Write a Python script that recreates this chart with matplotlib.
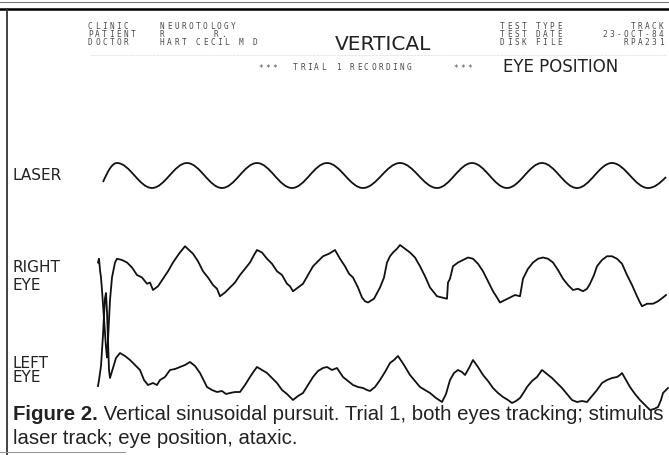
import matplotlib
matplotlib.use("Agg")
import matplotlib.pyplot as plt
from matplotlib.path import Path
from matplotlib.patches import PathPatch
from matplotlib.transforms import Affine2D

# 레이저 자극 (극값: 피크/골)
laser_x = [103, 117, 152, 187, 222, 257, 292, 327, 363, 400, 437, 472, 507, 542, 577, 612, 648, 666]
laser_y = [182, 163, 188, 163, 188, 163, 188, 163, 188, 163, 188, 163, 188, 163, 188, 163, 188, 177]

# 오른쪽 눈 (기록 단위)
right_x = [98, 99, 100, 101, 102, 104, 106, 107, 108, 110, 112, 115, 117, 122, 127, 132, 137, 142, 147, 150,
           153, 158, 163, 168, 173, 179, 185, 189, 193, 198, 203, 208, 213, 217, 220, 225, 230, 235, 240,
           245, 250, 254, 257, 262, 267, 272, 277, 282, 287, 290, 293, 298, 303, 308, 313, 318, 323, 329,
           335, 340, 345, 349, 353, 358, 362, 365, 368, 374, 380, 384, 387, 390, 393, 397, 400, 405, 410,
           415, 420, 425, 430, 434, 437, 442, 447, 448, 450, 453, 458, 463, 468, 473, 478, 483, 488, 493,
           497, 500, 505, 510, 515, 520, 523, 528, 533, 538, 543, 548, 553, 558, 563, 568, 573, 578, 583,
           587, 590, 594, 597, 602, 607, 612, 617, 622, 627, 632, 637, 640, 642, 647, 653, 658, 663, 666]
right_y = [250, 247, 256, 262, 272, 295, 318, 326, 312, 280, 262, 250, 247, 248, 250, 254, 260, 262, 267, 266,
           272, 269, 263, 257, 250, 243, 237, 240, 243, 249, 257, 262, 268, 271, 277, 274, 270, 266, 260,
           255, 250, 244, 240, 242, 247, 251, 257, 260, 267, 269, 273, 270, 267, 260, 253, 249, 245, 243,
           240, 247, 253, 259, 262, 270, 278, 281, 282, 279, 270, 262, 250, 245, 242, 239, 236, 239, 242,
           246, 253, 261, 270, 274, 277, 278, 279, 266, 263, 253, 250, 248, 246, 247, 251, 257, 265, 273,
           278, 282, 280, 278, 276, 277, 263, 255, 250, 247, 246, 247, 250, 256, 263, 268, 272, 271, 273,
           271, 267, 260, 253, 248, 245, 245, 247, 251, 260, 268, 277, 282, 285, 283, 283, 281, 278, 276]

# 왼쪽 눈 (기록 단위)
left_x = [98, 99, 101, 103, 104, 105, 106, 107, 108, 109, 110, 113, 116, 120, 125, 130, 135, 140, 144, 148,
          153, 157, 160, 165, 170, 175, 180, 185, 190, 195, 200, 204, 207, 212, 217, 222, 226, 230, 235,
          240, 245, 250, 254, 257, 262, 267, 272, 277, 282, 287, 293, 298, 303, 308, 313, 318, 323, 327,
          332, 337, 343, 348, 353, 358, 363, 367, 370, 375, 380, 385, 390, 394, 398, 404, 410, 415, 420,
          425, 430, 436, 442, 446, 450, 454, 458, 462, 465, 469, 473, 478, 483, 488, 493, 498, 503, 508,
          512, 516, 520, 524, 527, 532, 537, 542, 547, 552, 557, 562, 567, 572, 577, 582, 587, 592, 597,
          602, 607, 612, 617, 620, 622, 626, 630, 635, 640, 645, 650, 654, 658, 661, 663, 666, 668]
left_y = [356, 350, 336, 305, 285, 268, 263, 282, 312, 340, 348, 338, 328, 323, 326, 330, 335, 340, 350, 355,
          353, 355, 350, 347, 340, 339, 337, 335, 332, 336, 343, 351, 357, 360, 362, 361, 364, 363, 362,
          362, 355, 347, 341, 337, 340, 343, 348, 353, 360, 364, 370, 366, 363, 355, 347, 341, 338, 337,
          340, 338, 347, 351, 355, 357, 358, 360, 361, 357, 350, 342, 333, 330, 326, 335, 345, 351, 357,
          360, 363, 368, 372, 364, 350, 343, 340, 342, 345, 338, 330, 337, 345, 351, 358, 363, 367, 370,
          373, 371, 368, 362, 357, 351, 347, 340, 344, 348, 353, 358, 364, 370, 372, 371, 372, 366, 360,
          353, 350, 348, 347, 345, 343, 350, 357, 364, 370, 375, 380, 379, 377, 370, 363, 360, 358]

header_left = [("CLINIC", "NEUROTOLOGY"), ("PATIENT", "R"), ("DOCTOR", "HART")]
header_right = [("TEST TYPE", "TRACK"), ("TEST DATE", "23-OCT-84"), ("DISK FILE", "RPA231")]
caption_1 = " Vertical sinusoidal pursuit. Trial 1, both eyes tracking; stimulus"
caption_2 = "laser track; eye position, ataxic."

fig = plt.figure(figsize=(6.69, 4.55), dpi=100)
ax = fig.add_axes([0, 0, 1, 1])
ax.set_xlim(0, 669)
ax.set_ylim(455, 0)
ax.axis("off")

# 테두리
ax.plot([0, 669], [2, 2], color="#777777", lw=0.8)
ax.plot([0, 669], [8.5, 8.5], color="black", lw=1.8)
ax.plot([7, 7], [8.5, 455], color="#333333", lw=1.3)
ax.plot([0, 125], [452, 452], color="#999999", lw=0.8)
ax.plot([90, 666], [55, 55], color="#dddddd", lw=0.5, ls=(0, (4, 1)))


def dotmatrix(x, y, s, right=False):
    # 도트 프린터 느낌: 글자를 고정 간격으로 하나씩 찍기
    pitch = 7.1
    if right:
        x = x - pitch * len(s)
    for i, ch in enumerate(s):
        ax.text(x + i * pitch, y, ch, family="DejaVu Sans Mono", fontsize=5.6,
                color="#4a4a4a", va="center", ha="left")


rows = [26.5, 34.5, 42.5]
for (a, b), yy in zip(header_left, rows):
    dotmatrix(88, yy, a)
    dotmatrix(160, yy, b)
dotmatrix(214, 34.5, "R.")
dotmatrix(196, 42.5, "CECIL M D")
for (a, b), yy in zip(header_right, rows):
    dotmatrix(500, yy, a)
    dotmatrix(666, yy, b, right=True)

ax.text(383, 45, "VERTICAL", family="DejaVu Sans", fontsize=14.5, color="#222222",
        ha="center", va="center")
dotmatrix(258, 68, "***")
dotmatrix(293, 68, "TRIAL 1 RECORDING")
dotmatrix(453, 68, "***")
ax.text(503, 67, "EYE POSITION", family="DejaVu Sans", fontsize=12, color="#222222",
        ha="left", va="center")

label_kw = dict(family="DejaVu Sans", fontsize=11, color="#222222", ha="left", va="center")
ax.text(12, 175, "LASER", **label_kw)
ax.text(12, 268, "RIGHT", **label_kw)
ax.text(12, 285, "EYE", **label_kw)
ax.text(12, 363, "LEFT", **label_kw)
ax.text(12, 378, "EYE", **label_kw)

# 레이저: 극값 사이를 베지어 곡선으로 연결
verts = [(laser_x[0], laser_y[0])]
codes = [Path.MOVETO]
for i in range(1, len(laser_x)):
    x0, y0 = laser_x[i - 1], laser_y[i - 1]
    x1, y1 = laser_x[i], laser_y[i]
    dx = x1 - x0
    c1 = (x0 + 0.36 * dx, y0) if i > 1 else (x0 + 0.33 * dx, y0 + 0.55 * (y1 - y0))
    c2 = (x1 - 0.36 * dx, y1) if i < len(laser_x) - 1 else (x1 - 0.33 * dx, y1 - 0.55 * (y1 - y0))
    verts += [c1, c2, (x1, y1)]
    codes += [Path.CURVE4] * 3
ax.add_patch(PathPatch(Path(verts, codes), fill=False, lw=1.3, edgecolor="#111111"))

# 눈 기록: 기록 단위 -> 화면 띠 위치
right_tr = Affine2D().scale(1, 1.25).translate(0, -50) + ax.transData
left_tr = Affine2D().scale(1, 1.0).translate(0, 30) + ax.transData
ax.plot(right_x, right_y, color="#111111", lw=1.3, transform=right_tr)
ax.plot(left_x, left_y, color="#111111", lw=1.3, transform=left_tr)

fig_txt = ax.text(13, 415, "Figure 2.", family="Liberation Sans", fontsize=14.7, fontweight="bold",
                  color="#222222", ha="left", va="center")
ax.annotate(caption_1, xy=(1, 0.5), xycoords=fig_txt, family="Liberation Sans", fontsize=14.7,
            color="#222222", ha="left", va="center")
ax.text(13, 438, caption_2, family="Liberation Sans", fontsize=14.7, color="#222222",
        ha="left", va="center")

fig.savefig("out.png", dpi=100)
